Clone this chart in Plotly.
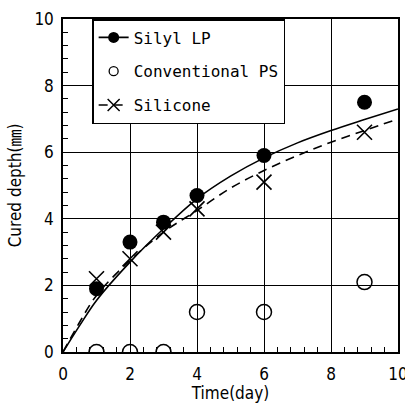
import plotly.graph_objects as go

# Measured data points
days = [1, 2, 3, 4, 6, 9]
silyl_lp = [1.9, 3.3, 3.9, 4.7, 5.9, 7.5]
conventional_ps = [0, 0, 0, 1.2, 1.2, 2.1]
silicone = [2.2, 2.8, 3.6, 4.3, 5.1, 6.6]

# Fitted curves
fit_x = [0, 0.5, 1, 2, 3, 4, 5, 6, 7, 8, 9, 10]
fit_silyl = [0, 0.8, 1.55, 2.7, 3.7, 4.6, 5.28, 5.83, 6.28, 6.65, 6.98, 7.3]
fit_silicone = [0, 0.9, 1.7, 2.75, 3.6, 4.25, 4.92, 5.45, 5.9, 6.3, 6.65, 7.0]

tick_font = dict(family="DejaVu Sans Condensed, Liberation Sans Narrow, sans-serif",
                 size=17, color="black")
title_font = dict(family="DejaVu Sans Condensed, Noto Sans CJK JP, sans-serif",
                  size=17, color="black")

fig = go.Figure()

hidden = dict(selectedpoints=[], unselected=dict(marker=dict(opacity=0)), hoverinfo="skip")

# Curves (legend entries carry a marker sample; plotted markers hidden via selection)
fig.add_trace(go.Scatter(
    x=fit_x, y=fit_silyl, mode="lines+markers", name="Silyl LP",
    line=dict(color="black", width=1.6, shape="spline"),
    marker=dict(symbol="circle", size=11, color="black"),
    legendgroup="a", **hidden))
fig.add_trace(go.Scatter(
    x=days, y=conventional_ps, mode="markers", name="Conventional PS",
    marker=dict(symbol="circle-open", size=9, color="black", line=dict(width=1.3)),
    legendgroup="b", **hidden))
fig.add_trace(go.Scatter(
    x=fit_x, y=fit_silicone, mode="lines+markers", name="Silicone",
    line=dict(color="black", width=1.6, dash="9px,6px", shape="spline"),
    marker=dict(symbol="x-thin-open", size=12, color="black", line=dict(width=1.5, color="black")),
    legendgroup="c", **hidden))

# Data markers
fig.add_trace(go.Scatter(
    x=days, y=silyl_lp, mode="markers", showlegend=False,
    marker=dict(symbol="circle", size=15, color="black")))
fig.add_trace(go.Scatter(
    x=days, y=conventional_ps, mode="markers", showlegend=False,
    marker=dict(symbol="circle-open", size=15, color="black", line=dict(width=1.5))))
fig.add_trace(go.Scatter(
    x=days, y=silicone, mode="markers", showlegend=False,
    marker=dict(symbol="x-thin-open", size=15, color="black", line=dict(width=1.6, color="black"))))

axis_common = dict(
    showgrid=True, gridcolor="black", gridwidth=1,
    showline=True, linecolor="black", linewidth=1.5, mirror=True,
    ticks="inside", ticklen=5, tickcolor="black",
    zeroline=False, tickfont=tick_font, dtick=2,
    ticklabeloverflow="allow", automargin=False,
    minor=dict(ticks="inside", ticklen=5, tickcolor="black", dtick=0.4, showgrid=False),
)

fig.update_layout(
    width=405, height=403,
    margin=dict(l=63, r=7, t=19, b=51, autoexpand=False),
    plot_bgcolor="white", paper_bgcolor="white",
    xaxis=dict(range=[0, 10], title=dict(text="Time(day)", font=title_font, standoff=4),
               ticklabelstandoff=6, **axis_common),
    yaxis=dict(range=[0, 10], title=dict(text="Cured depth(㎜)", font=title_font, standoff=8),
               ticklabelstandoff=4, **axis_common),
    legend=dict(x=0.087, y=1.0, xanchor="left", yanchor="top",
                bgcolor="white", bordercolor="black", borderwidth=1.5,
                font=dict(family="DejaVu Sans Mono, monospace", size=16, color="black"),
                tracegroupgap=10),
    showlegend=True,
)

fig.write_html("out.html")
